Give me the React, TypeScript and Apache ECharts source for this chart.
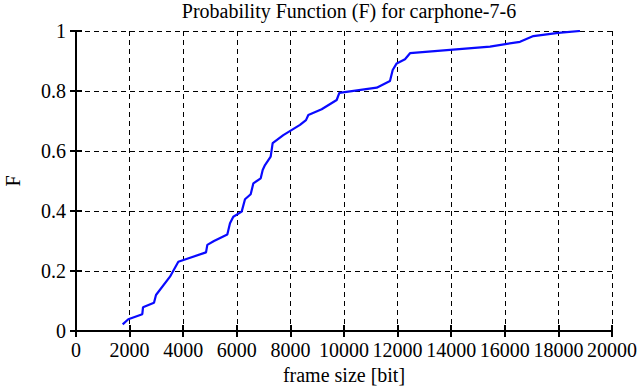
import React, { useEffect, useRef } from "react";
import * as echarts from "echarts";

const titleText = "Probability Function (F) for carphone-7-6";
const xName = "frame size [bit]";
const yName = "F";

const frameSize = [
  1742, 1952, 2474, 2500, 2910, 2985, 3507, 3818, 4851, 4900, 5149, 5646, 5746,
  5870, 6182, 6306, 6518, 6616, 6892, 6966, 7052, 7264, 7338, 7736, 8358, 8582,
  8669, 9167, 9727, 9826, 11220, 11716, 11817, 11966, 12276, 12463, 13955, 15448,
  16567, 17065, 17997, 18806,
];
const probF = [
  0.022, 0.039, 0.056, 0.079, 0.094, 0.12, 0.181, 0.231, 0.262, 0.287, 0.3, 0.322,
  0.359, 0.381, 0.398, 0.439, 0.456, 0.492, 0.509, 0.537, 0.553, 0.581, 0.626,
  0.653, 0.687, 0.703, 0.72, 0.739, 0.77, 0.794, 0.811, 0.833, 0.87, 0.892, 0.906,
  0.926, 0.937, 0.948, 0.964, 0.983, 0.994, 1.0,
];

const FONT = "'Liberation Serif', 'DejaVu Serif', serif";

export default function App() {
  const ref = useRef<HTMLDivElement>(null);
  useEffect(() => {
    document.body.style.margin = "0";
    const chart = echarts.init(ref.current!, null, { renderer: "svg" });
    const gridLine = { show: true, lineStyle: { color: "#000", type: [5, 4] as any, width: 1 } };
    const axisBase = {
      min: 0,
      axisLine: { show: true, lineStyle: { color: "#000", width: 2 } },
      axisTick: { show: true, inside: true, length: 6, lineStyle: { color: "#000", width: 2 } },
    };
    chart.setOption({
      animation: false,
      backgroundColor: "#fff",
      title: {
        text: titleText,
        left: 344,
        textAlign: "center",
        top: -4,
        textStyle: { fontFamily: FONT, fontSize: 20, fontWeight: "normal", color: "#000" },
      },
      grid: {
        left: 76,
        right: 27,
        top: 31,
        bottom: 56,
        containLabel: false,
        outerBoundsMode: "none",
      } as any,
      xAxis: [
        {
          ...axisBase,
          type: "value",
          max: 20000,
          interval: 2000,
          name: xName,
          nameLocation: "middle",
          nameGap: 34,
          nameTextStyle: { fontFamily: FONT, fontSize: 20, color: "#000" },
          axisLabel: {
            fontFamily: FONT,
            fontSize: 20,
            color: "#000",
            margin: 9,
            formatter: (v: number) => String(v),
          },
          splitLine: gridLine,
        },
        {
          ...axisBase,
          type: "value",
          position: "top",
          max: 20000,
          interval: 2000,
          axisLabel: { show: false },
          splitLine: { show: false },
        },
      ],
      yAxis: [
        {
          ...axisBase,
          type: "value",
          max: 1,
          interval: 0.2,
          name: yName,
          nameLocation: "middle",
          nameGap: 53,
          nameTextStyle: { fontFamily: FONT, fontSize: 20, color: "#000" },
          axisLabel: {
            fontFamily: FONT,
            fontSize: 20,
            color: "#000",
            margin: 10,
            formatter: (v: number) => String(v),
          },
          splitLine: gridLine,
        },
        {
          ...axisBase,
          type: "value",
          position: "right",
          max: 1,
          interval: 0.2,
          axisLabel: { show: false },
          splitLine: { show: false },
        },
      ],
      series: [
        {
          type: "line",
          data: frameSize.map((x, i) => [x, probF[i]]),
          showSymbol: false,
          lineStyle: { color: "#0a0aff", width: 2.2 },
          xAxisIndex: 0,
          yAxisIndex: 0,
        },
      ],
    });
    return () => chart.dispose();
  }, []);
  return <div ref={ref} style={{ width: 639, height: 387, position: "absolute", left: 0, top: 0 }} />;
}
